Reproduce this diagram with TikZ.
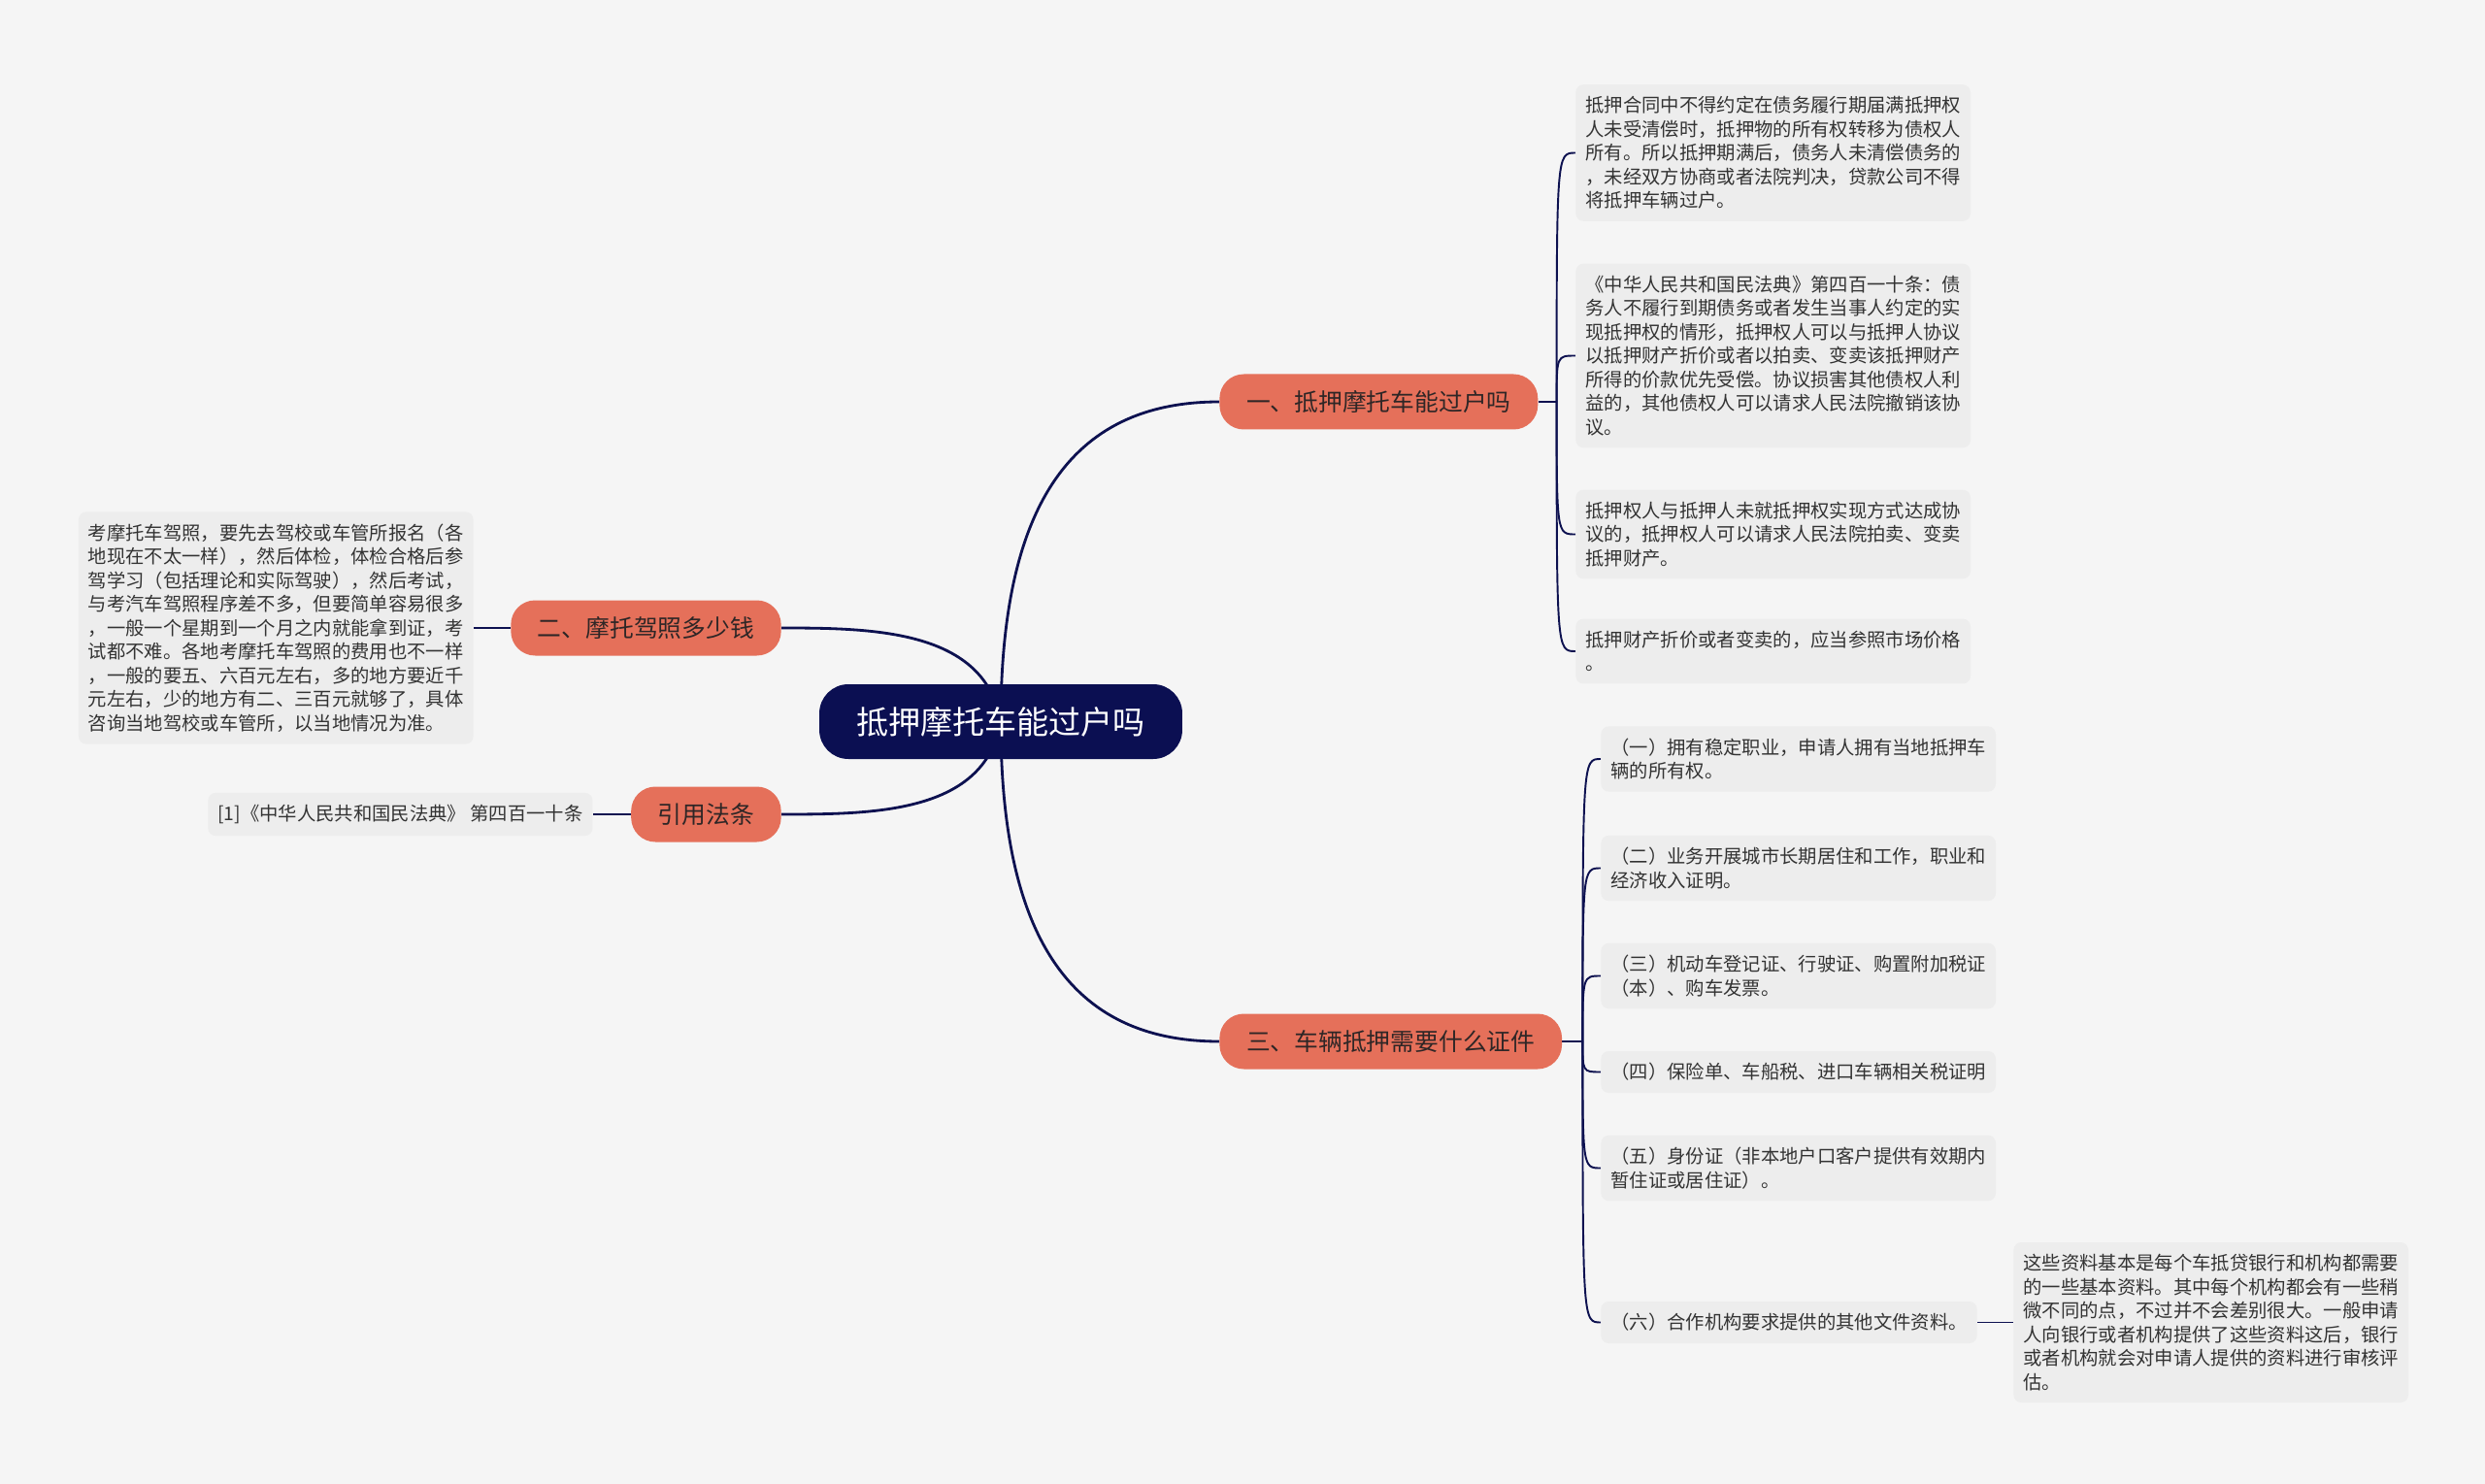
\documentclass[tikz,border=0pt]{standalone}
\usepackage{fontspec}
\setmainfont{Noto Sans CJK SC}
\usepackage{tikz}
\usetikzlibrary{positioning}
\pgfdeclarelayer{background}
\pgfsetlayers{background,main}
\definecolor{pagebg}{HTML}{F5F5F5}
\definecolor{rootfill}{HTML}{0B0F52}
\definecolor{topicfill}{HTML}{E5705A}
\definecolor{topictext}{HTML}{2E2626}
\definecolor{leaffill}{HTML}{EDEDED}
\definecolor{leaftext}{HTML}{333333}
\definecolor{linkcol}{HTML}{0D1150}
\tikzstyle{rootblock}=[rectangle, rounded corners=0.6cm, fill=rootfill, text=white, font=\fontsize{18.8pt}{22pt}\selectfont, minimum height=1.54cm, inner xsep=21.8pt]
\tikzstyle{topicblock}=[rectangle, rounded corners=0.5cm, fill=topicfill, text=topictext, font=\fontsize{14.1pt}{17pt}\selectfont, minimum height=1.14cm, inner xsep=15.75pt]
\tikzstyle{leafblock}=[rectangle, rounded corners=4.5pt, fill=leaffill, text=leaftext, align=left, font=\fontsize{11pt}{13.94pt}\selectfont, inner xsep=5.7pt, inner ysep=7pt]
\tikzstyle{link}=[draw=linkcol, line width=1.6pt]
\tikzstyle{twig}=[draw=linkcol, line width=1.1pt]

\begin{document}
\begin{tikzpicture}
\useasboundingbox (0,0) rectangle (51.2,-30.58);

\node[rootblock] (root) at (20.62,-14.87) {抵押摩托车能过户吗};
\node[topicblock, anchor=west] (t1) at (25.12,-8.28) {一、抵押摩托车能过户吗};
\node[topicblock, anchor=east] (t2) at (16.1,-12.94) {二、摩托驾照多少钱};
\node[topicblock, anchor=west] (t3) at (25.12,-21.46) {三、车辆抵押需要什么证件};
\node[topicblock, anchor=east] (t4) at (16.1,-16.78) {引用法条};

% branch one
\node[leafblock, anchor=west] (l1a) at (32.46,-3.15) {抵押合同中不得约定在债务履行期届满抵押权\\人未受清偿时，抵押物的所有权转移为债权人\\所有。所以抵押期满后，债务人未清偿债务的\\，未经双方协商或者法院判决，贷款公司不得\\将抵押车辆过户。};
\node[leafblock, anchor=west] (l1b) at (32.46,-7.33) {《中华人民共和国民法典》第四百一十条：债\\务人不履行到期债务或者发生当事人约定的实\\现抵押权的情形，抵押权人可以与抵押人协议\\以抵押财产折价或者以拍卖、变卖该抵押财产\\所得的价款优先受偿。协议损害其他债权人利\\益的，其他债权人可以请求人民法院撤销该协\\议。};
\node[leafblock, anchor=west] (l1c) at (32.46,-11.01) {抵押权人与抵押人未就抵押权实现方式达成协\\议的，抵押权人可以请求人民法院拍卖、变卖\\抵押财产。};
\node[leafblock, anchor=west] (l1d) at (32.46,-13.42) {抵押财产折价或者变卖的，应当参照市场价格\\。};

% branch two and citation
\node[leafblock, left=0.76cm of t2] (l2) {考摩托车驾照，要先去驾校或车管所报名（各\\地现在不太一样），然后体检，体检合格后参\\驾学习（包括理论和实际驾驶），然后考试，\\与考汽车驾照程序差不多，但要简单容易很多\\，一般一个星期到一个月之内就能拿到证，考\\试都不难。各地考摩托车驾照的费用也不一样\\，一般的要五、六百元左右，多的地方要近千\\元左右，少的地方有二、三百元就够了，具体\\咨询当地驾校或车管所，以当地情况为准。};
\node[leafblock, left=0.78cm of t4] (cite) {[1]《中华人民共和国民法典》 第四百一十条};

% branch three
\node[leafblock, anchor=west] (l3a) at (32.98,-15.64) {（一）拥有稳定职业，申请人拥有当地抵押车\\辆的所有权。};
\node[leafblock, anchor=west] (l3b) at (32.98,-17.89) {（二）业务开展城市长期居住和工作，职业和\\经济收入证明。};
\node[leafblock, anchor=west] (l3c) at (32.98,-20.11) {（三）机动车登记证、行驶证、购置附加税证\\（本）、购车发票。};
\node[leafblock, anchor=west] (l3d) at (32.98,-22.09) {（四）保险单、车船税、进口车辆相关税证明};
\node[leafblock, anchor=west] (l3e) at (32.98,-24.07) {（五）身份证（非本地户口客户提供有效期内\\暂住证或居住证）。};
\node[leafblock, anchor=west] (l3f) at (32.98,-27.25) {（六）合作机构要求提供的其他文件资料。};
\node[leafblock, right=0.74cm of l3f] (l3g) {这些资料基本是每个车抵贷银行和机构都需要\\的一些基本资料。其中每个机构都会有一些稍\\微不同的点，不过并不会差别很大。一般申请\\人向银行或者机构提供了这些资料这后，银行\\或者机构就会对申请人提供的资料进行审核评\\估。};

\path (t1.east)+(0.38,0) coordinate (j1);
\path (t3.east)+(0.42,0) coordinate (j3);

\begin{pgfonlayer}{background}
\fill[pagebg] (0,0) rectangle (51.2,-30.58);
\draw[link] (root.center) to[out=90,in=180,out looseness=1.4] (t1.west);
\draw[link] (root.center) to[out=-90,in=180,out looseness=1.4] (t3.west);
\draw[link] (root.center) to[out=100,in=0] (t2.east);
\draw[link] (root.center) to[out=-100,in=0] (t4.east);
\draw[twig] (t1.east) -- (j1);
\foreach \l in {l1a,l1b,l1c,l1d}
  \draw[twig] (j1) .. controls (j1 |- \l.west) .. (\l.west);
\draw[twig] (t3.east) -- (j3);
\foreach \l in {l3a,l3b,l3c,l3d,l3e,l3f}
  \draw[twig] (j3) .. controls (j3 |- \l.west) .. (\l.west);
\draw[twig] (t2.west) -- (l2.east);
\draw[twig] (t4.west) -- (cite.east);
\draw[twig] (l3f.east) -- (l3g.west);
\end{pgfonlayer}

\end{tikzpicture}
\end{document}
